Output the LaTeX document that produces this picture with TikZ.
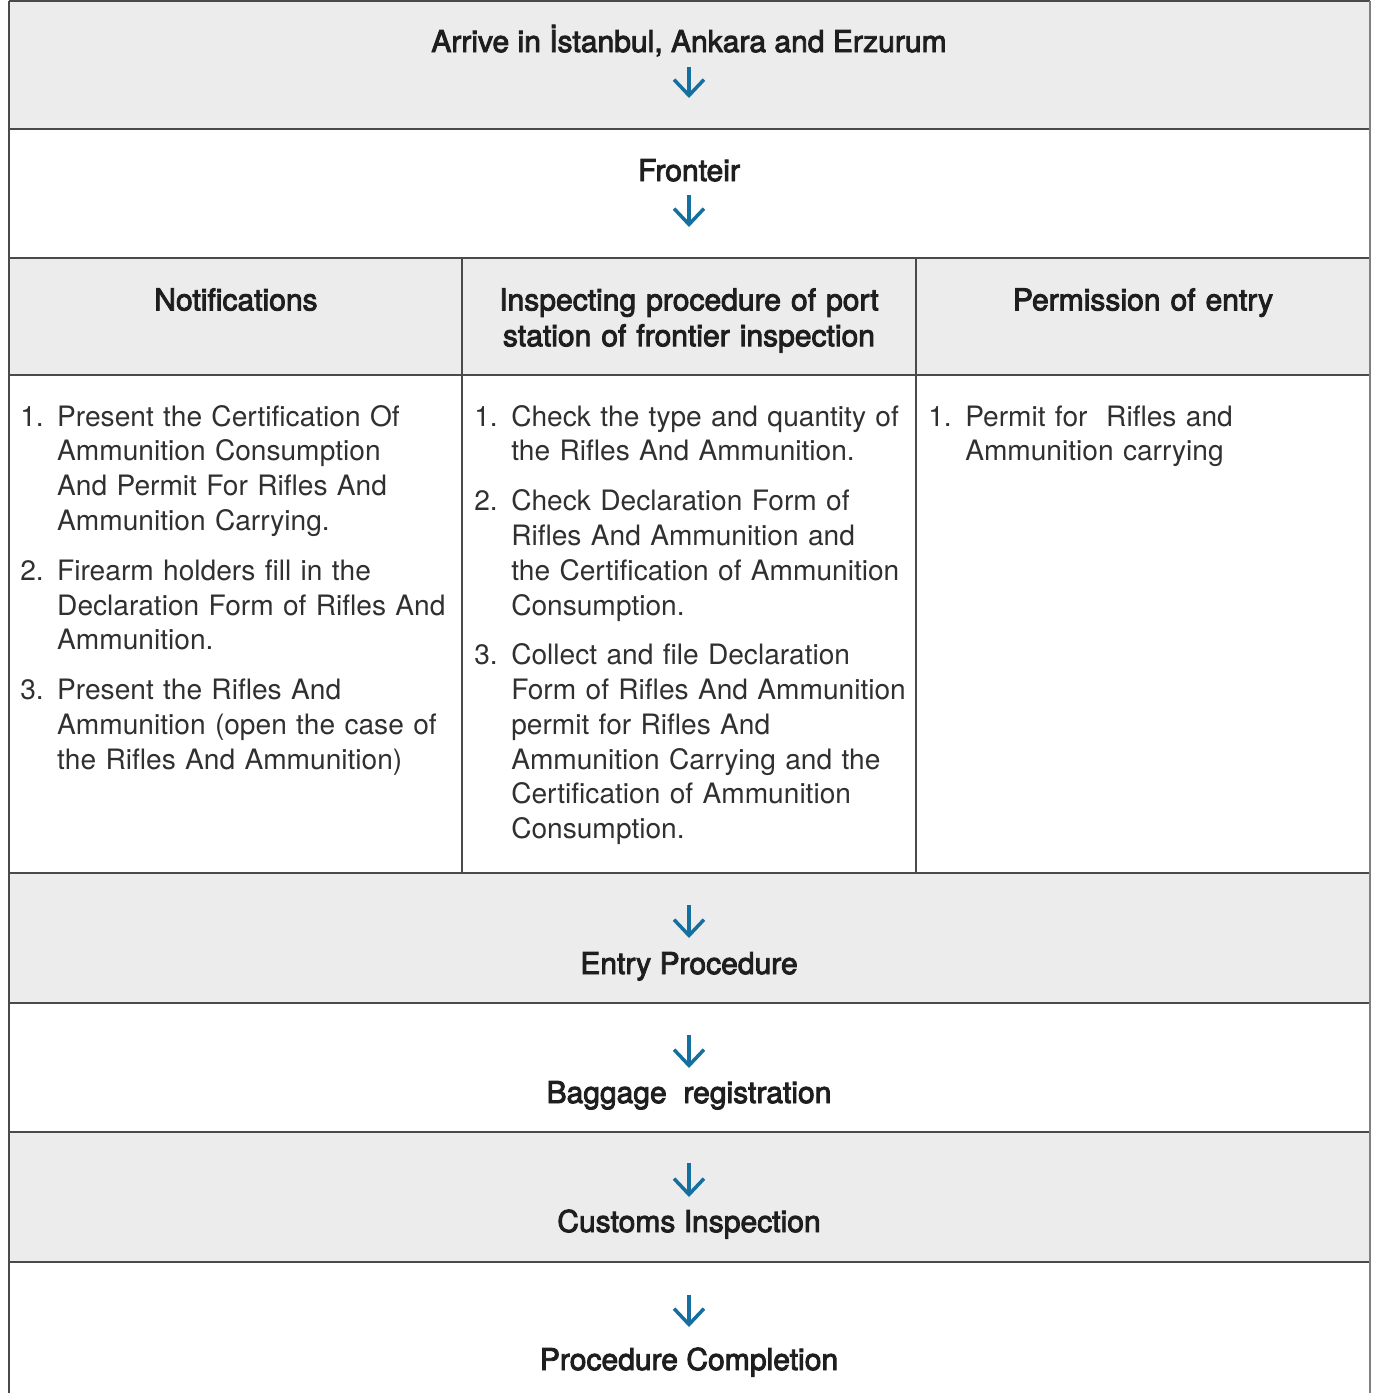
\documentclass[tikz,border=0pt]{standalone}
\usepackage{fontspec}
\setmainfont{TeX Gyre Heros}
\newfontfamily\headfont[FakeBold=3]{TeX Gyre Heros}
\usepackage{enumitem}
\usetikzlibrary{arrows.meta,positioning}

\definecolor{cellgray}{HTML}{ECECEC}
\definecolor{rulegray}{HTML}{4A4A4A}
\definecolor{flowblue}{HTML}{16709F}
\definecolor{inkgray}{HTML}{1E1E1E}
\definecolor{lightink}{HTML}{303030}

\tikzset{
  gridline/.style={draw=rulegray, line width=0.8pt},
  flow/.style={draw=flowblue, line width=2pt,
    -{Straight Barb[length=9pt,width=17pt,line width=2pt]}},
  steptitle/.style={font=\headfont\fontsize{17.1}{20.4}\selectfont, text=inkgray,
    inner sep=0pt, anchor=base},
  coltitle/.style={steptitle, text width=8.4cm, align=center, anchor=north},
  colbody/.style={font=\fontsize{16}{19.8}\selectfont, text=lightink,
    inner sep=0pt, anchor=north west, text width=8.8cm, align=left}
}

\setlist[enumerate]{label=\arabic*., leftmargin=21pt, labelindent=0pt,
  labelwidth=21pt, labelsep=0pt, align=left, itemsep=8.5pt, parsep=0pt,
  topsep=0pt, partopsep=0pt}

\begin{document}
\begin{tikzpicture}[x=0.02cm, y=-0.02cm]

\useasboundingbox (0,0) rectangle (1375,1393);

% grey rows
\fill[cellgray] (9,1) rectangle (1370,129);
\fill[cellgray] (9,258) rectangle (1370,375);
\fill[cellgray] (9,873) rectangle (1370,1003);
\fill[cellgray] (9,1132) rectangle (1370,1262);

% rules
\foreach \y in {1,129,258,375,873,1003,1132,1262}
  \draw[gridline] (9,\y) -- (1370,\y);
\draw[gridline] (9,1) -- (9,1393);
\draw[draw=gray, line width=1.6pt] (1370,1) -- (1370,1393);
\draw[gridline] (462,258) -- (462,873);
\draw[gridline] (916,258) -- (916,873);

% steps
\node[steptitle] (arrive) at (689,52) {Arrive in İstanbul, Ankara and Erzurum};
\node[steptitle] (fronteir) at (689,181) {Fronteir};
\node[steptitle] (entry) at (689,974) {Entry Procedure};
\node[steptitle] (baggage) at (689,1103) {Baggage~ registration};
\node[steptitle] (customs) at (689,1232) {Customs Inspection};
\node[steptitle] (complete) at (689,1370) {Procedure Completion};

% column heads
\node[coltitle] (notif) at (236,288) {Notifications};
\node[coltitle] (inspect) at (689,288) {Inspecting procedure of port\\station of frontier inspection};
\node[coltitle] (permit) at (1143,288) {Permission of entry};

% column bodies
\node[colbody] (notiflist) at (20,391) {%
\begin{enumerate}
\item Present the Certification Of\newline Ammunition Consumption\newline And Permit For Rifles And\newline Ammunition Carrying.
\item Firearm holders fill in the\newline Declaration Form of Rifles And\newline Ammunition.
\item Present the Rifles And\newline Ammunition (open the case of\newline the Rifles And Ammunition)
\end{enumerate}};
\node[colbody] (inspectlist) at (474,391) {%
\begin{enumerate}
\item Check the type and quantity of\newline the Rifles And Ammunition.
\item Check Declaration Form of\newline Rifles And Ammunition and\newline the Certification of Ammunition\newline Consumption.
\item Collect and file Declaration\newline Form of Rifles And Ammunition\newline permit for Rifles And\newline Ammunition Carrying and the\newline Certification of Ammunition\newline Consumption.
\end{enumerate}};
\node[colbody] (permitlist) at (928,391) {%
\begin{enumerate}
\item Permit for~ Rifles and\newline Ammunition carrying
\end{enumerate}};

% flow arrows
\coordinate (f1a) at (689,67);   \coordinate (f1b) at (689,98);
\coordinate (f2a) at (689,195);  \coordinate (f2b) at (689,227);
\coordinate (f5a) at (689,905);  \coordinate (f5b) at (689,938);
\coordinate (f6a) at (689,1035); \coordinate (f6b) at (689,1068);
\coordinate (f7a) at (689,1163); \coordinate (f7b) at (689,1197);
\coordinate (f8a) at (689,1295); \coordinate (f8b) at (689,1327);
\foreach \k in {1,2,5,6,7,8}
  \draw[flow] (f\k a) -- (f\k b);

\end{tikzpicture}
\end{document}
